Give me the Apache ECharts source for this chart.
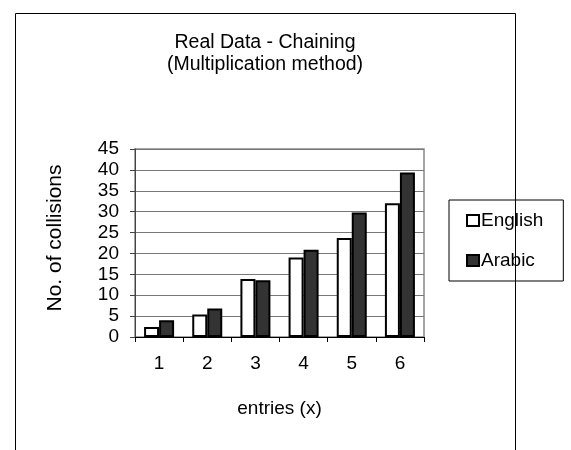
<!DOCTYPE html>
<html>
<head>
<meta charset="utf-8">
<script src="https://cdn.jsdelivr.net/npm/echarts@6/dist/echarts.min.js"></script>
<style>
  html, body { margin: 0; padding: 0; background: #fff; }
  #chart { width: 571px; height: 450px; }
</style>
</head>
<body>
<div id="chart"></div>
<script>
// Collisions per number of entries, chaining with the multiplication method
const categories = ['1', '2', '3', '4', '5', '6'];
const englishValues = [2.4, 5.4, 13.9, 19.0, 23.7, 32.0];
const arabicValues = [4.0, 6.8, 13.6, 20.9, 29.8, 39.4];
const seriesNames = ['English', 'Arabic'];

const FONT = 'Liberation Sans, Arial, sans-serif';

const chart = echarts.init(document.getElementById('chart'), null, { renderer: 'canvas' });

chart.setOption({
  backgroundColor: '#ffffff',
  animation: false,
  title: {
    text: 'Real Data - Chaining\n(Multiplication method)',
    left: 260,
    top: 27,
    textAlign: 'center',
    textStyle: { fontFamily: FONT, fontSize: 19.5, fontWeight: 'normal', color: '#000', lineHeight: 22 }
  },
  graphic: [{
    type: 'rect',
    left: 13,
    top: 11,
    shape: { width: 500, height: 470 },
    style: { fill: 'none', stroke: '#000', lineWidth: 1 },
    silent: true
  }],
  legend: {
    orient: 'vertical',
    left: 449,
    top: 200,
    padding: [11, 20, 11, 17],
    itemGap: 21,
    itemWidth: 12,
    itemHeight: 11,
    borderColor: '#000',
    borderWidth: 1,
    icon: 'rect',
    textStyle: { fontFamily: FONT, fontSize: 19, color: '#000', padding: [0, 0, 0, -3] },
    data: seriesNames
  },
  grid: {
    left: 135,
    right: 147,
    top: 149,
    bottom: 113,
    show: true,
    borderColor: '#888',
    borderWidth: 1.5,
    backgroundColor: 'transparent'
  },
  xAxis: {
    type: 'category',
    data: categories,
    name: 'entries (x)',
    nameLocation: 'middle',
    nameGap: 62,
    nameTextStyle: { fontFamily: FONT, fontSize: 19, color: '#000' },
    axisLine: { lineStyle: { color: '#000', width: 1 } },
    axisTick: { show: true, inside: false, length: 5, alignWithLabel: false, lineStyle: { color: '#000' } },
    axisLabel: { fontFamily: FONT, fontSize: 19, color: '#000', margin: 17 }
  },
  yAxis: {
    type: 'value',
    min: 0,
    max: 45,
    interval: 5,
    name: 'No. of collisions',
    nameLocation: 'middle',
    nameGap: 69,
    nameTextStyle: { fontFamily: FONT, fontSize: 21, color: '#000', padding: [0, 0, 0, 10] },
    axisLine: { show: true, lineStyle: { color: '#444', width: 1 } },
    axisTick: { show: true, length: 5, lineStyle: { color: '#444' } },
    axisLabel: { fontFamily: FONT, fontSize: 19, color: '#000', margin: 16 },
    splitLine: { show: true, lineStyle: { color: '#777', width: 1.2 } }
  },
  series: [
    {
      name: seriesNames[0],
      type: 'bar',
      data: englishValues,
      barWidth: 15,
      barGap: '0%',
      itemStyle: { color: '#ffffff', borderColor: '#000', borderWidth: 2 }
    },
    {
      name: seriesNames[1],
      type: 'bar',
      data: arabicValues,
      barWidth: 15,
      barGap: '0%',
      itemStyle: { color: '#333333', borderColor: '#000', borderWidth: 2 }
    }
  ]
});
</script>
</body>
</html>
